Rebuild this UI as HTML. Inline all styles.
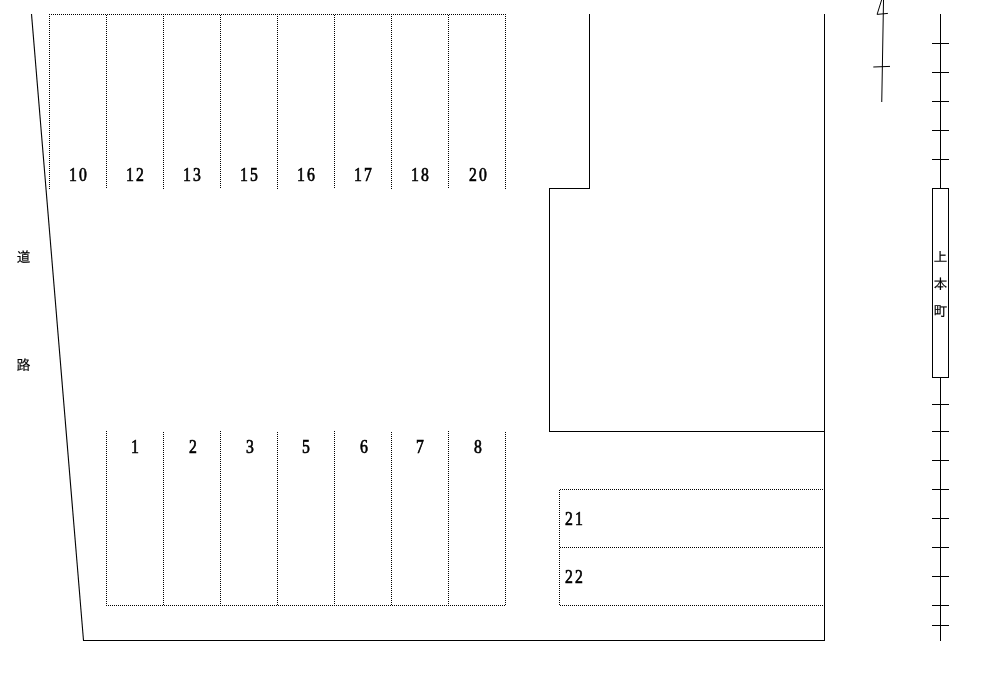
<!DOCTYPE html>
<html lang="ja">
<head>
<meta charset="utf-8">
<title>駐車場 区画図</title>
<style>
html,body{margin:0;padding:0;background:#fff;}
body{width:988px;height:682px;overflow:hidden;position:relative;}
svg{position:absolute;left:0;top:0;display:block;will-change:transform;filter:grayscale(1);}
.num{font-family:"Liberation Serif","Noto Serif CJK SC",serif;font-size:18.3px;fill:#000;stroke:#000;stroke-width:0.65px;letter-spacing:2.48px;}
.jp{font-family:"Liberation Sans","IPAGothic","Noto Sans CJK JP",sans-serif;font-size:14px;fill:#000;stroke:#000;stroke-width:0.15px;}
</style>
</head>
<body>
<svg width="988" height="682" viewBox="0 0 988 682">
<defs>
<pattern id="dots" x="0" y="0" width="2" height="2" patternUnits="userSpaceOnUse">
<rect x="1" y="0" width="1" height="1" fill="#000"/>
<rect x="0" y="1" width="1" height="1" fill="#000"/>
</pattern>
</defs>
<rect x="0" y="0" width="988" height="682" fill="#fff"/>
<g shape-rendering="crispEdges" fill="url(#dots)">
<rect x="49" y="14" width="457" height="1"/>
<rect x="49" y="14" width="1" height="175"/>
<rect x="106" y="14" width="1" height="175"/>
<rect x="163" y="14" width="1" height="175"/>
<rect x="220" y="14" width="1" height="175"/>
<rect x="277" y="14" width="1" height="175"/>
<rect x="334" y="14" width="1" height="175"/>
<rect x="391" y="14" width="1" height="175"/>
<rect x="448" y="14" width="1" height="175"/>
<rect x="505" y="14" width="1" height="175"/>
<rect x="106" y="431" width="1" height="175"/>
<rect x="163" y="431" width="1" height="175"/>
<rect x="220" y="431" width="1" height="175"/>
<rect x="277" y="431" width="1" height="175"/>
<rect x="334" y="431" width="1" height="175"/>
<rect x="391" y="431" width="1" height="175"/>
<rect x="448" y="431" width="1" height="175"/>
<rect x="505" y="431" width="1" height="175"/>
<rect x="106" y="605" width="400" height="1"/>
<rect x="559" y="489" width="265" height="1"/>
<rect x="559" y="547" width="265" height="1"/>
<rect x="559" y="605" width="265" height="1"/>
<rect x="559" y="489" width="1" height="117"/>
</g>
<g shape-rendering="crispEdges" fill="#000">
<rect x="589" y="14" width="1" height="175"/>
<rect x="549" y="188" width="41" height="1"/>
<rect x="549" y="188" width="1" height="244"/>
<rect x="549" y="431" width="276" height="1"/>
<rect x="824" y="14" width="1" height="627"/>
<rect x="83" y="640" width="742" height="1"/>
<rect x="940" y="14" width="1" height="175"/>
<rect x="940" y="377" width="1" height="264"/>
<rect x="932" y="43" width="17" height="1"/>
<rect x="932" y="72" width="17" height="1"/>
<rect x="932" y="101" width="17" height="1"/>
<rect x="932" y="130" width="17" height="1"/>
<rect x="932" y="159" width="17" height="1"/>
<rect x="932" y="404" width="17" height="1"/>
<rect x="932" y="431" width="17" height="1"/>
<rect x="932" y="460" width="17" height="1"/>
<rect x="932" y="489" width="17" height="1"/>
<rect x="932" y="518" width="17" height="1"/>
<rect x="932" y="547" width="17" height="1"/>
<rect x="932" y="576" width="17" height="1"/>
<rect x="932" y="605" width="17" height="1"/>
<rect x="932" y="625" width="17" height="1"/>
<rect x="932" y="188" width="17" height="1"/>
<rect x="932" y="377" width="17" height="1"/>
<rect x="932" y="188" width="1" height="190"/>
<rect x="948" y="188" width="1" height="190"/>
</g>
<g stroke="#000" stroke-width="1" fill="none" stroke-linecap="butt">
<line x1="31.5" y1="14" x2="83.5" y2="640.5" stroke-width="1.1"/>
<line x1="883.55" y1="-2" x2="881.75" y2="102"/>
<polyline points="884.1,-8 877.1,14.4 887.9,13.4"/>
<line x1="873.3" y1="67" x2="890" y2="66.4"/>
</g>
<text class="num" transform="translate(69,181) scale(0.86,1)">10</text>
<text class="num" transform="translate(126,181) scale(0.86,1)">12</text>
<text class="num" transform="translate(183,181) scale(0.86,1)">13</text>
<text class="num" transform="translate(240,181) scale(0.86,1)">15</text>
<text class="num" transform="translate(297,181) scale(0.86,1)">16</text>
<text class="num" transform="translate(354,181) scale(0.86,1)">17</text>
<text class="num" transform="translate(411,181) scale(0.86,1)">18</text>
<text class="num" transform="translate(469,181) scale(0.86,1)">20</text>
<text class="num" transform="translate(131,453) scale(0.86,1)">1</text>
<text class="num" transform="translate(189,453) scale(0.86,1)">2</text>
<text class="num" transform="translate(246,453) scale(0.86,1)">3</text>
<text class="num" transform="translate(302,453) scale(0.86,1)">5</text>
<text class="num" transform="translate(360,453) scale(0.86,1)">6</text>
<text class="num" transform="translate(416,453) scale(0.86,1)">7</text>
<text class="num" transform="translate(474,453) scale(0.86,1)">8</text>
<text class="num" transform="translate(565,525) scale(0.86,1)">21</text>
<text class="num" transform="translate(565,583) scale(0.86,1)">22</text>
<text class="jp" x="16.5" y="261.8">道</text>
<text class="jp" x="16.5" y="369.8">路</text>
<text class="jp" x="933.5" y="261.8">上</text>
<text class="jp" x="933.5" y="288.8">本</text>
<text class="jp" x="933.5" y="315.8">町</text>
</svg>
</body>
</html>
